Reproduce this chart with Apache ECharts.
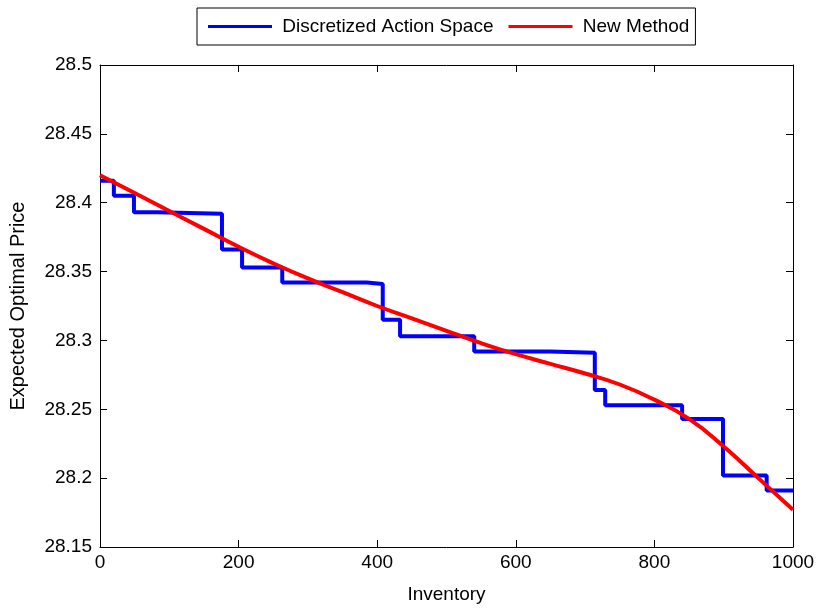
<!DOCTYPE html>
<html>
<head>
<meta charset="utf-8">
<script src="https://cdn.jsdelivr.net/npm/echarts@6/dist/echarts.min.js"></script>
<style>
  html, body { margin: 0; padding: 0; background: #fff; }
  #chart { width: 821px; height: 609px; }
</style>
</head>
<body>
<div id="chart"></div>
<script>
// step function: level holds from stepX[i] to stepX[i+1]
const stepX = [0, 20, 49, 82, 176, 205, 263, 385, 408, 433, 540, 649, 714, 729, 840, 899, 962, 1000]
const stepY = [28.416, 28.405, 28.393, 28.392, 28.366, 28.353, 28.342, 28.341, 28.315, 28.303,
  28.292, 28.291, 28.264, 28.253, 28.243, 28.202, 28.191, 28.191]

const curveX = [0, 50, 100, 150, 200, 250, 300, 350, 400, 450, 500, 550, 600, 650, 700, 750, 800, 850, 900, 950, 1000]
const curveY = [28.420, 28.407, 28.394, 28.381, 28.368, 28.356, 28.345, 28.335, 28.325, 28.316, 28.307,
  28.298, 28.290, 28.283, 28.276, 28.268, 28.257, 28.243, 28.223, 28.200, 28.177]

const FONT = 'Liberation Sans'
const X_MIN = 0, X_MAX = 1000, Y_MIN = 28.15, Y_MAX = 28.5

const chart = echarts.init(document.getElementById('chart'), null, { renderer: 'canvas' })

const boxAxis = (extra) => Object.assign({
  type: 'value',
  axisLine: { show: true, onZero: false, lineStyle: { color: '#000', width: 1 } },
  axisTick: { show: true, inside: true, length: 7, lineStyle: { color: '#000' } },
  splitLine: { show: false },
}, extra)

chart.setOption({
  animation: false,
  backgroundColor: '#fff',
  textStyle: { fontFamily: FONT },
  legend: {
    top: 8,
    left: 197,
    padding: [9, 6, 9, 11],
    itemGap: 15,
    borderColor: '#000',
    borderWidth: 1,
    icon: 'rect',
    itemWidth: 64,
    itemHeight: 3,
    formatter: (name) => ' ' + name,
    textStyle: { fontFamily: FONT, fontSize: 19, color: '#000' },
    data: ['Discretized Action Space', 'New Method'],
  },
  grid: { left: 100, right: 28, top: 65, bottom: 62 },
  xAxis: [
    boxAxis({
      min: X_MIN, max: X_MAX, interval: 200,
      name: 'Inventory', nameLocation: 'middle', nameGap: 38,
      nameTextStyle: { fontFamily: FONT, fontSize: 19, color: '#000' },
      axisLabel: { color: '#000', fontSize: 19, margin: 6, fontFamily: FONT, formatter: (v) => String(v) },
    }),
    boxAxis({ min: X_MIN, max: X_MAX, interval: 200, position: 'top', axisLabel: { show: false } }),
  ],
  yAxis: [
    boxAxis({
      min: Y_MIN, max: Y_MAX, interval: 0.05,
      name: 'Expected Optimal Price', nameLocation: 'middle', nameGap: 72,
      nameTextStyle: { fontFamily: FONT, fontSize: 20, color: '#000' },
      axisLabel: {
        color: '#000', fontSize: 19, margin: 8, fontFamily: FONT,
        formatter: (v) => String(+v.toFixed(2)),
      },
    }),
    boxAxis({ min: Y_MIN, max: Y_MAX, interval: 0.05, position: 'right', axisLabel: { show: false } }),
  ],
  series: [
    {
      name: 'Discretized Action Space',
      type: 'line',
      step: 'end',
      symbol: 'none',
      xAxisIndex: 0,
      yAxisIndex: 0,
      lineStyle: { color: '#0000ff', width: 4 },
      itemStyle: { color: '#0000ff' },
      data: stepX.map((x, i) => [x, stepY[i]]),
    },
    {
      name: 'New Method',
      type: 'line',
      smooth: true,
      symbol: 'none',
      xAxisIndex: 0,
      yAxisIndex: 0,
      lineStyle: { color: '#ff0000', width: 4 },
      itemStyle: { color: '#ff0000' },
      data: curveX.map((x, i) => [x, curveY[i]]),
    },
  ],
})
</script>
</body>
</html>
